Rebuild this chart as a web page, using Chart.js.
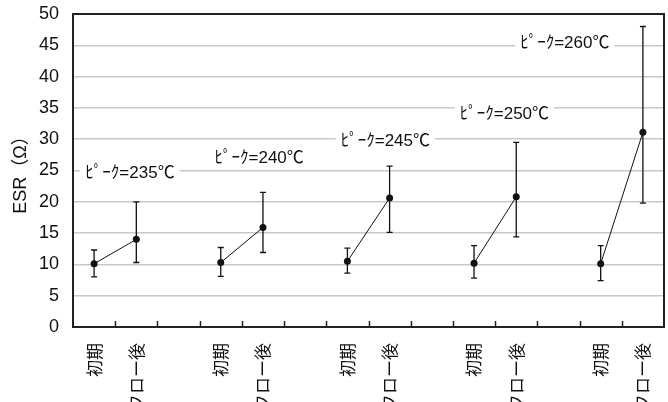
<!DOCTYPE html>
<html>
<head>
<meta charset="utf-8">
<script src="https://cdn.jsdelivr.net/npm/chart.js@4/dist/chart.umd.min.js"></script>
<style>
  html, body { margin: 0; padding: 0; background: #fff; overflow: hidden; }
  #wrap { position: relative; width: 668px; height: 425px; }
</style>
</head>
<body>
<div id="wrap"><canvas id="esrChart"></canvas></div>
<script>
// categories (blank entries separate the groups)
const categories = ['初期', 'リフロー後', '', '初期', 'リフロー後', '', '初期', 'リフロー後', '', '初期', 'リフロー後', '', '初期', 'リフロー後'];
// ESR mean values
const esrMean = [10.1, 14.0, null, 10.3, 15.9, null, 10.5, 20.6, null, 10.2, 20.8, null, 10.1, 31.1];
// error bar max / min
const esrMax = [12.3, 20.0, null, 12.7, 21.5, null, 12.6, 25.7, null, 13.0, 29.5, null, 13.0, 48.0];
const esrMin = [8.0, 10.3, null, 8.1, 11.9, null, 8.6, 15.1, null, 7.8, 14.4, null, 7.4, 19.8];
// peak temperature labels
const peakLabels = ['ﾋﾟｰｸ=235℃', 'ﾋﾟｰｸ=240℃', 'ﾋﾟｰｸ=245℃', 'ﾋﾟｰｸ=250℃', 'ﾋﾟｰｸ=260℃'];

const numFont = '"Liberation Sans", Arial, sans-serif';
const jpFont = '"Liberation Sans", "Noto Sans CJK JP", sans-serif';

// error bars + frame + inner tick marks + peak labels
const esrPlugin = {
    id: 'esrPlugin',
    beforeDatasetsDraw(chart, args, opts) {
        const ctx = chart.ctx;
        const x = chart.scales.x, y = chart.scales.y;
        ctx.save();
        // peak labels with white background
        ctx.font = '17px ' + jpFont;
        ctx.textAlign = 'center';
        ctx.textBaseline = 'middle';
        peakLabels.forEach((t, i) => {
            const px = x.getPixelForValue(opts.labelAt[i][0]);
            const py = y.getPixelForValue(opts.labelAt[i][1]);
            const w = ctx.measureText(t).width;
            ctx.fillStyle = '#fff';
            ctx.fillRect(px - w / 2 - 5, py - 10, w + 10, 20);
            ctx.fillStyle = '#111';
            ctx.fillText(t, px, py);
        });
        // error bars
        ctx.strokeStyle = '#111';
        ctx.lineWidth = 1.3;
        esrMean.forEach((v, i) => {
            if (v === null) return;
            const px = x.getPixelForValue(i);
            const top = y.getPixelForValue(esrMax[i]);
            const bot = y.getPixelForValue(esrMin[i]);
            ctx.beginPath();
            ctx.moveTo(px, top); ctx.lineTo(px, bot);
            ctx.moveTo(px - 3, top); ctx.lineTo(px + 3, top);
            ctx.moveTo(px - 3, bot); ctx.lineTo(px + 3, bot);
            ctx.stroke();
        });
        ctx.restore();
    },
    afterDraw(chart) {
        const ctx = chart.ctx;
        const x = chart.scales.x;
        const a = chart.chartArea;
        ctx.save();
        ctx.strokeStyle = '#222';
        ctx.lineWidth = 1.5;
        // inner tick marks between categories
        ctx.beginPath();
        for (let i = 1; i < categories.length; i++) {
            const px = Math.round((x.getPixelForValue(i - 1) + x.getPixelForValue(i)) / 2) + 0.5;
            ctx.moveTo(px, a.bottom);
            ctx.lineTo(px, a.bottom - 6);
        }
        ctx.stroke();
        // frame
        ctx.lineWidth = 2;
        ctx.strokeRect(a.left, a.top, a.right - a.left, a.bottom - a.top);
        ctx.restore();
    }
};

let esrCtx = document.getElementById('esrChart');
let esrConfig = {
    type: 'line',
    data: {
        labels: categories,
        datasets: [{
            label: 'ESR',
            data: esrMean,
            borderColor: '#111',
            borderWidth: 1,
            backgroundColor: '#111',
            pointRadius: 3.5,
            pointBorderWidth: 0,
            spanGaps: false,
            tension: 0
        }]
    },
    options: {
        responsive: true,
        maintainAspectRatio: false,
        animation: false,
        layout: { padding: { top: 14, right: 3, bottom: 2, left: 8 } },
        plugins: {
            legend: { display: false },
            tooltip: { enabled: false },
            esrPlugin: {
                // [category position, ESR value] of each peak label
                labelAt: [[0.85, 24.5], [3.91, 27.0], [6.9, 29.6], [9.72, 34.0], [11.15, 45.3]]
            }
        },
        scales: {
            x: {
                offset: true,
                grid: { display: false, drawTicks: false },
                border: { display: true, color: '#222', width: 2 },
                afterFit(scale) {
                    scale.height = 96;
                    scale.paddingLeft = 0;
                    scale.paddingRight = 0;
                },
                ticks: {
                    autoSkip: false,
                    maxRotation: 90,
                    minRotation: 90,
                    padding: 16,
                    color: '#111',
                    font: { family: '"Noto Sans CJK JP", sans-serif', size: 17 }
                }
            },
            y: {
                min: 0,
                max: 50,
                grid: { color: '#c8c8c8', lineWidth: 1.5, drawTicks: false },
                border: { display: true, color: '#222', width: 2 },
                afterFit(scale) {
                    scale.width = 65;
                    scale.paddingTop = 0;
                    scale.paddingBottom = 0;
                },
                ticks: {
                    stepSize: 5,
                    padding: 14,
                    color: '#111',
                    font: { family: numFont, size: 18 }
                },
                title: {
                    display: true,
                    text: 'ESR（Ω）',
                    color: '#111',
                    padding: { top: 2, bottom: 4 },
                    font: { family: jpFont, size: 18 }
                }
            }
        }
    },
    plugins: [esrPlugin]
};
let esrChart = new Chart(esrCtx, esrConfig);
</script>
</body>
</html>
